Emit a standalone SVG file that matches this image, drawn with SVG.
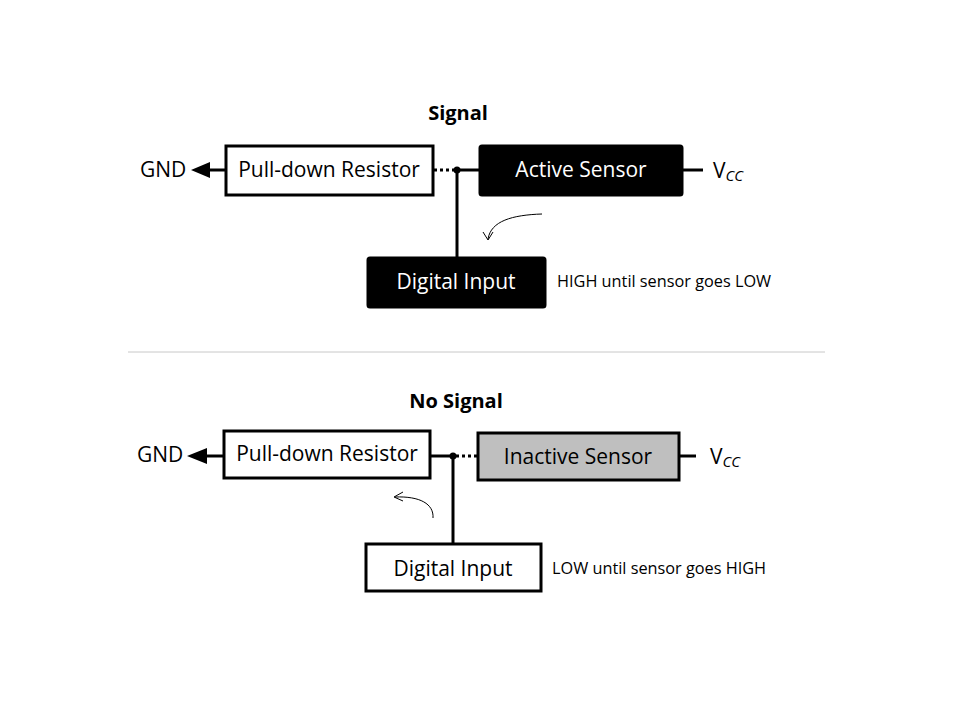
<svg xmlns="http://www.w3.org/2000/svg" width="960" height="720" viewBox="0 0 960 720">
<defs>
<style>
text{font-family:"Open Sans","Noto Sans","Liberation Sans",sans-serif;fill:#000}
.t{font-size:21px}
.title{font-size:20px;font-weight:bold}
.note{font-size:16.3px}
.sub{font-size:15px;font-style:italic}
.box{stroke:#000;stroke-width:3}
.w{fill:#fff}
.k{fill:#000}
.g{fill:#bfbfbf}
.wire{stroke:#000;stroke-width:3;fill:none}
.dot{stroke:#000;stroke-width:3;stroke-dasharray:3 3;fill:none}
.thin{stroke:#000;stroke-width:1;fill:none}
</style>
</defs>
<rect width="960" height="720" fill="#fff"/>

<text class="title" x="458" y="120" text-anchor="middle">Signal</text>
<text class="title" x="456" y="408" text-anchor="middle">No Signal</text>
<line x1="128" y1="352" x2="825" y2="352" stroke="#c8c8c8" stroke-width="1"/>

<g id="connectors">
<line class="wire" x1="210" y1="170" x2="226" y2="170"/>
<polygon points="191,170 210,162 210,178" fill="#000"/>
<line class="dot" x1="434" y1="170" x2="455" y2="170"/>
<line class="wire" x1="457" y1="170" x2="479" y2="170"/>
<circle cx="457" cy="170" r="3.5" fill="#000"/>
<line class="wire" x1="457" y1="170" x2="457" y2="257"/>
<line class="wire" x1="683" y1="170" x2="703" y2="170"/>
<path class="thin" d="M542,214 C512,215 491,221 488,239"/>
<path class="thin" d="M483,232 L488,240 L493,232"/>

<line class="wire" x1="207" y1="456" x2="224" y2="456"/>
<polygon points="187,456 207,448 207,464" fill="#000"/>
<line class="wire" x1="430" y1="456" x2="453" y2="456"/>
<line class="dot" x1="456" y1="456" x2="477" y2="456"/>
<circle cx="453" cy="456" r="3.5" fill="#000"/>
<line class="wire" x1="453" y1="456" x2="453" y2="543"/>
<line class="wire" x1="680" y1="456" x2="696" y2="456"/>
<path class="thin" d="M433,518 C434,504 420,496 395,497"/>
<path class="thin" d="M403,492 L394,497 L403,501"/>
</g>

<g id="gnd-top"><text class="t" x="140" y="177">GND</text></g>
<g id="pulldown-top">
<rect class="box w" x="226" y="146" width="207" height="49"/>
<text class="t" x="329" y="177" text-anchor="middle">Pull-down Resistor</text>
</g>
<g id="active-sensor">
<rect class="box k" x="480" y="146" width="202" height="49" rx="2"/>
<text class="t" x="581" y="177" text-anchor="middle" style="fill:#fff">Active Sensor</text>
</g>
<g id="vcc-top"><text class="t" x="713" y="178">V<tspan class="sub" dy="3">CC</tspan></text></g>
<g id="digital-top">
<rect class="box k" x="368" y="258" width="177" height="49" rx="2"/>
<text class="t" x="456" y="289" text-anchor="middle" style="fill:#fff">Digital Input</text>
</g>
<g id="note-top"><text class="note" x="557" y="287">HIGH until sensor goes LOW</text></g>

<g id="gnd-bottom"><text class="t" x="137" y="462">GND</text></g>
<g id="pulldown-bottom">
<rect class="box w" x="224" y="431" width="206" height="47"/>
<text class="t" x="327" y="461" text-anchor="middle">Pull-down Resistor</text>
</g>
<g id="inactive-sensor">
<rect class="box g" x="478" y="433" width="201" height="47"/>
<text class="t" x="578" y="464" text-anchor="middle">Inactive Sensor</text>
</g>
<g id="vcc-bottom"><text class="t" x="710" y="464">V<tspan class="sub" dy="3">CC</tspan></text></g>
<g id="digital-bottom">
<rect class="box w" x="366" y="544" width="175" height="47"/>
<text class="t" x="453" y="576" text-anchor="middle">Digital Input</text>
</g>
<g id="note-bottom"><text class="note" x="552" y="574">LOW until sensor goes HIGH</text></g>
</svg>
